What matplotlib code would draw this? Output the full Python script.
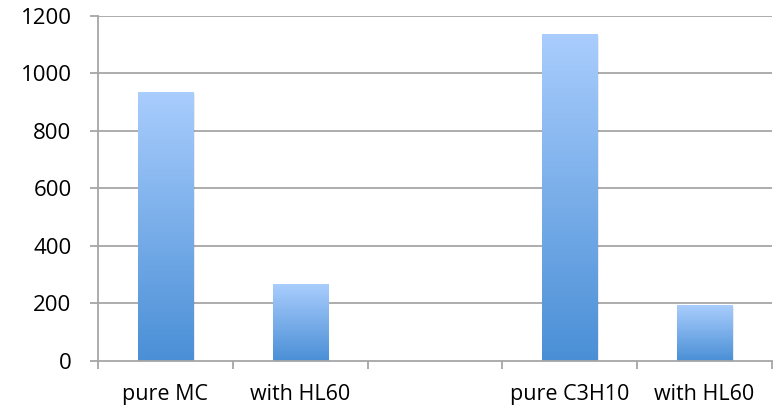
import numpy as np
import matplotlib.pyplot as plt
from matplotlib.colors import LinearSegmentedColormap
from matplotlib.ticker import FixedLocator

# --- data ---
categories = ['pure MC', 'with HL60', '', 'pure C3H10', 'with HL60']
values = [935, 267, 0, 1137, 194]
y_ticks = [0, 200, 400, 600, 800, 1000, 1200]

plt.rcParams['font.family'] = ['Open Sans', 'DejaVu Sans']

fig = plt.figure(figsize=(7.76, 4.09), dpi=100)
ax = fig.add_axes([0.1263, 0.118, 0.8685, 0.8436])

x = np.arange(len(categories))
width = 0.41
grid_color = '#a6a6a6'

ax.set_xlim(-0.5, len(categories) - 0.5)
ax.set_ylim(0, 1200)

# gridlines
for t in y_ticks[1:]:
    ax.axhline(t, color=grid_color, linewidth=1.3, zorder=1)

# bars with vertical gradient (light on top, darker at bottom)
cmap = LinearSegmentedColormap.from_list('bar', ['#4a8fd6', '#a9cdfd'])
grad = np.linspace(0, 1, 256).reshape(-1, 1)
for xi, v in zip(x, values):
    if v <= 0:
        continue
    # soft shadow
    ax.bar(xi + 0.012, v, width=width, bottom=-6, color='#000000', alpha=0.08,
           linewidth=0, zorder=2)
    ax.imshow(grad, cmap=cmap, origin='lower', aspect='auto',
              extent=(xi - width / 2, xi + width / 2, 0, v), zorder=3)

ax.set_xlim(-0.5, len(categories) - 0.5)
ax.set_ylim(0, 1200)

# axes styling
for side in ['top', 'right']:
    ax.spines[side].set_visible(False)
for side in ['left', 'bottom']:
    ax.spines[side].set_color(grid_color)
    ax.spines[side].set_linewidth(1.3)
    ax.spines[side].set_zorder(4)

ax.set_yticks(y_ticks)
ax.set_yticklabels([str(t) for t in y_ticks], fontsize=16)
ax.tick_params(axis='y', length=6, width=1.3, color=grid_color, pad=13)

ax.set_xticks(x)
ax.set_xticklabels(categories, fontsize=15.5)
ax.tick_params(axis='x', which='major', length=0, pad=17)
ax.xaxis.set_minor_locator(FixedLocator(np.arange(-0.5, len(categories), 1.0)))
ax.tick_params(axis='x', which='minor', length=6, width=1.3, color=grid_color, direction='out')

fig.savefig('out.png', dpi=100)
